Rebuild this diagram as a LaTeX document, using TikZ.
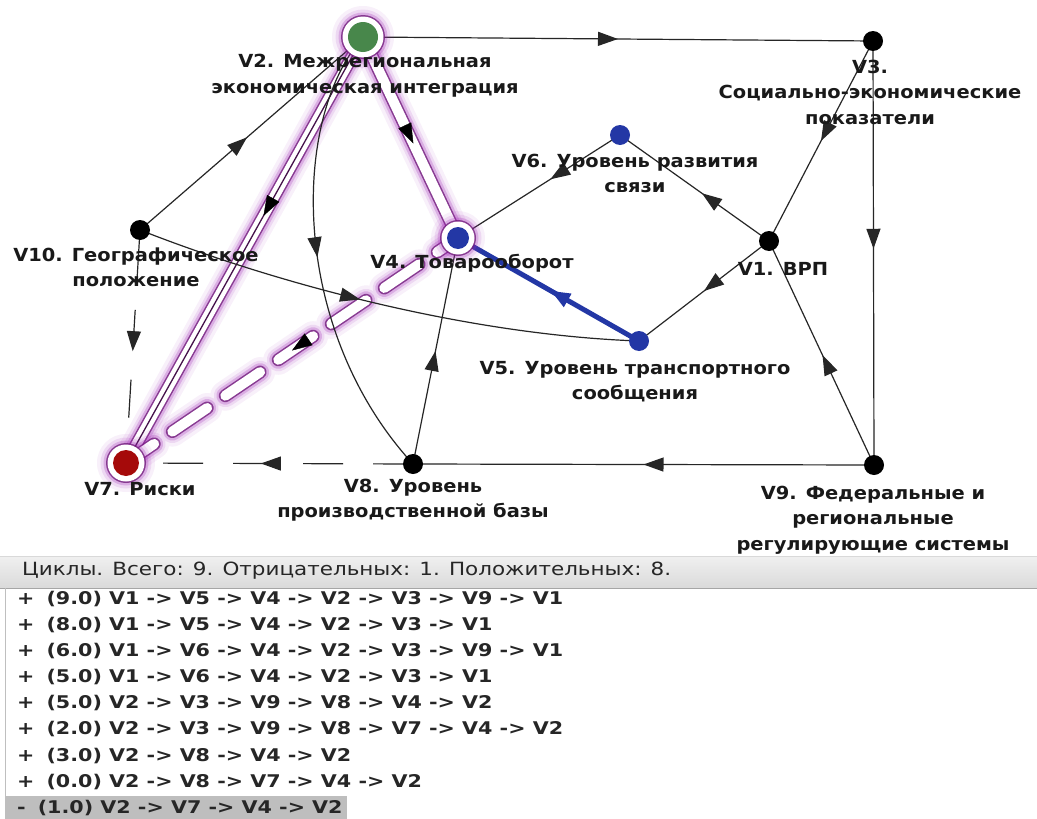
\documentclass[tikz,border=0pt]{standalone}
\usepackage{fontspec}
\setmainfont{DejaVu Sans}
\newfontfamily\lblfont[FakeStretch=1.08]{DejaVu Sans}
\newfontfamily\rowfont[FakeStretch=1.18]{DejaVu Sans}
\usetikzlibrary{arrows.meta,decorations.markings}

\definecolor{glowc}{RGB}{165,45,185}
\definecolor{glowdark}{RGB}{115,30,125}
\definecolor{nodegreen}{RGB}{72,135,75}
\definecolor{nodeblue}{RGB}{35,55,165}
\definecolor{nodered}{RGB}{165,10,10}
\definecolor{headtop}{RGB}{240,240,240}
\definecolor{headbot}{RGB}{218,218,218}
\definecolor{rowsel}{RGB}{190,190,190}

\tikzset{
  midarrow/.style={postaction={decorate},
    decoration={markings, mark=at position #1 with {\arrow{Triangle[length=20pt,width=14pt]}}}},
  midarrow/.default=0.5,
  link/.style={draw=black!85, line width=1.2pt, midarrow=#1},
  link/.default=0.5,
  dashlink/.style={link=#1, dash pattern=on 40pt off 30pt},
  bluelink/.style={draw=nodeblue, line width=5pt, midarrow=#1},
  dot/.style={circle, fill=black, minimum size=20pt, inner sep=0pt},
  bluedot/.style={dot, fill=nodeblue},
  lbl/.style={font={\lblfont\bfseries\fontsize{18}{25.5}\selectfont}, align=center, inner sep=0pt, text=black!90},
  rowtxt/.style={font={\rowfont\bfseries\fontsize{17.5}{19}\selectfont}, anchor=west, inner sep=0pt, text=black!85},
}

% glowing band along a path: #1 extra options, #2 the path
\newcommand\glowband[2]{%
  \draw[#1, line width=30pt, glowc, opacity=0.07, line cap=round] #2;
  \draw[#1, line width=23pt, glowc, opacity=0.12, line cap=round] #2;
  \draw[#1, line width=18pt, glowc, opacity=0.25, line cap=round] #2;
  \draw[#1, line width=13pt, glowdark, opacity=0.8, line cap=round] #2;
  \draw[#1, line width=10pt, white, line cap=round] #2;
}
% glowing ring node: #1 name, #2 position, #3 inner radius, #4 fill colour
\newcommand\glownode[4]{%
  \fill[glowc, opacity=0.07] #2 circle ({#3+16pt});
  \fill[glowc, opacity=0.12] #2 circle ({#3+12.5pt});
  \fill[glowc, opacity=0.25] #2 circle ({#3+9.5pt});
  \fill[glowdark, opacity=0.8] #2 circle ({#3+7pt});
  \fill[white] #2 circle ({#3+5.5pt});
  \node[circle, fill=#4, minimum size={2*#3}, inner sep=0pt] (#1) at #2 {};
}

\begin{document}
\begin{tikzpicture}[x=1pt, y=-1pt]
\useasboundingbox (0,0) rectangle (1037,819);
\fill[white] (0,0) rectangle (1037,819);

% vertex positions
\coordinate (p2) at (363,37);
\coordinate (p4) at (458,238);
\coordinate (p7) at (126,463);
\path (873,41) coordinate (p3)
      (620,135) coordinate (p6)
      (769,241) coordinate (p1)
      (140,230) coordinate (p10)
      (639,341) coordinate (p5)
      (413,464) coordinate (p8)
      (874,465) coordinate (p9);

% highlighted negative cycle V2 -> V7 -> V4 -> V2
\glowband{}{(p2) -- (p7)}
\glowband{}{(p2) -- (p4)}
\glowband{dash pattern=on 42pt off 22pt, dash phase=8pt}{(p7) -- (p4)}
\draw[line width=1.3pt, glowdark!60!black] (p2) -- (p7);

% ordinary arcs
\draw[link=0.5]  (p2) -- (p3);
\draw[link=0.49] (p3) -- (p9);
\draw[link=0.5]  (p3) -- (p1);
\draw[link=0.45] (p1) -- (p6);
\draw[link=0.43] (p6) -- (p4);
\draw[link=0.5]  (p1) -- (p5);
\draw[link=0.49] (p9) -- (p1);
\draw[link=0.5]  (p9) -- (p8);
\draw[dashlink=0.53] (p8) -- (p7);
\draw[link=0.5]  (p8) -- (p4);
\draw[link=0.48] (p10) -- (p2);
\draw[link=0.52, dash pattern=on 38pt off 32pt, dash phase=60pt] (p10) -- (p7);
\draw[link=0.5]  (p2) .. controls (290,120) and (290,330) .. (p8);
\draw[link=0.45] (p10) .. controls (280,285) and (470,335) .. (p5);
\draw[bluelink=0.49] (p5) -- (p4);

% arrow heads on the highlighted arcs
\path[midarrow=0.42] (p2) -- (p7);
\path[midarrow=0.53] (p2) -- (p4);
\path[midarrow=0.5]  (p4) -- (p7);

% vertices
\glownode{V2}{(p2)}{15pt}{nodegreen}
\glownode{V4}{(p4)}{11pt}{nodeblue}
\glownode{V7}{(p7)}{13pt}{nodered}
\node[dot] (V1) at (p1) {};
\node[dot] (V3) at (p3) {};
\node[bluedot] (V5) at (p5) {};
\node[bluedot] (V6) at (p6) {};
\node[dot] (V8) at (p8) {};
\node[dot] (V9) at (p9) {};
\node[dot] (V10) at (p10) {};

% vertex captions
\node[lbl] (V1l) at (783,269) {V1. ВРП};
\node[lbl] (V2l) at (365,75.5) {V2. Межрегиональная\\экономическая интеграция};
\node[lbl] (V3l) at (870,92) {V3.\\Социально-экономические\\показатели};
\node[lbl] (V4l) at (472,263) {V4. Товарооборот};
\node[lbl] (V5l) at (635,381.5) {V5. Уровень транспортного\\сообщения};
\node[lbl] (V6l) at (635,173.5) {V6. Уровень развития\\связи};
\node[lbl] (V7l) at (140,489) {V7. Риски};
\node[lbl] (V8l) at (413,500) {V8. Уровень\\производственной базы};
\node[lbl] (V9l) at (873,520) {V9. Федеральные и\\региональные\\регулирующие системы};
\node[lbl] (V10l) at (136,267.5) {V10. Географическое\\положение};

% cycle list panel
\shade[top color=headtop, bottom color=headbot] (0,556) rectangle (1037,588);
\draw[black!15] (0,556) -- (1037,556);
\draw[black!35, line width=1pt] (0,588) -- (1037,588);
\draw[black!25] (5,588) -- (5,819);
\fill[rowsel] (5,796) rectangle (347,819);
\node[anchor=west, inner sep=0pt, text=black!85, font={\rowfont\fontsize{18.2}{20}\selectfont}] (head) at (22,571)
  {Циклы. Всего: 9. Отрицательных: 1. Положительных: 8.};
\foreach \k/\t in {1/{+\hspace{12pt}(9.0) V1 -> V5 -> V4 -> V2 -> V3 -> V9 -> V1},
                   2/{+\hspace{12pt}(8.0) V1 -> V5 -> V4 -> V2 -> V3 -> V1},
                   3/{+\hspace{12pt}(6.0) V1 -> V6 -> V4 -> V2 -> V3 -> V9 -> V1},
                   4/{+\hspace{12pt}(5.0) V1 -> V6 -> V4 -> V2 -> V3 -> V1},
                   5/{+\hspace{12pt}(5.0) V2 -> V3 -> V9 -> V8 -> V4 -> V2},
                   6/{+\hspace{12pt}(2.0) V2 -> V3 -> V9 -> V8 -> V7 -> V4 -> V2},
                   7/{+\hspace{12pt}(3.0) V2 -> V8 -> V4 -> V2},
                   8/{+\hspace{12pt}(0.0) V2 -> V8 -> V7 -> V4 -> V2},
                   9/{-\hspace{12pt}(1.0) V2 -> V7 -> V4 -> V2}}
  \node[rowtxt] (row\k) at (17,{599+26.1*(\k-1)}) {\t};
\end{tikzpicture}
\end{document}
